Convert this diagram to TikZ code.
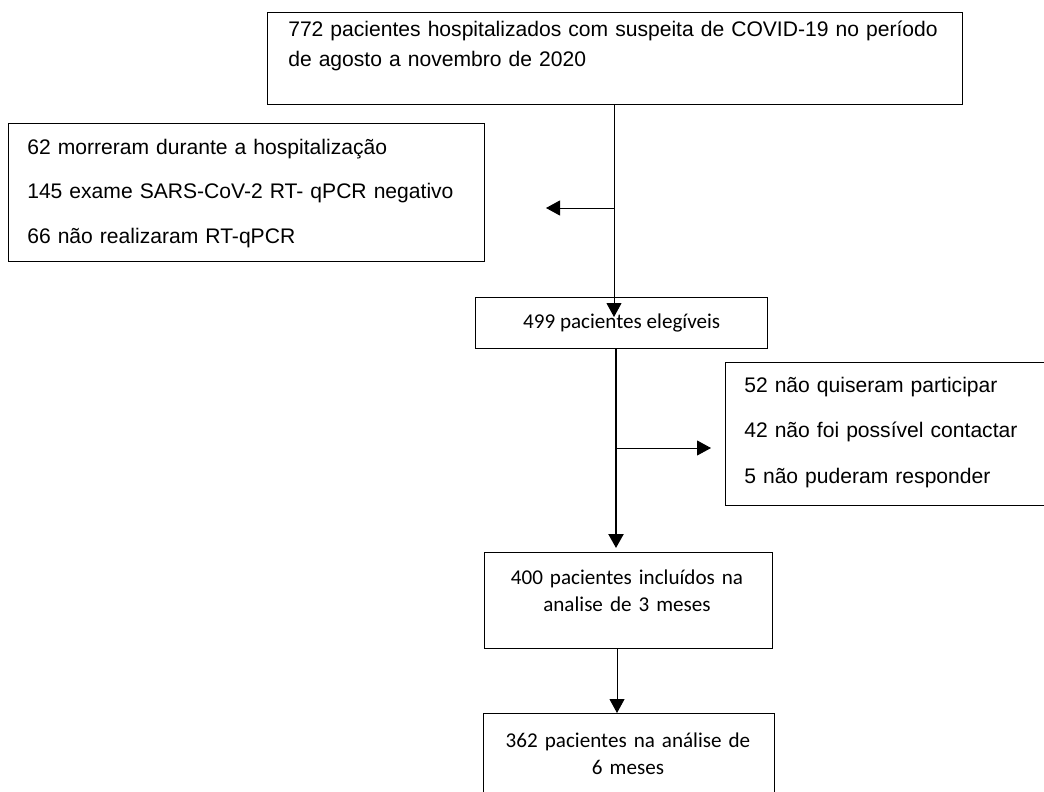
\documentclass[tikz,border=0pt]{standalone}
\usepackage{fontspec}
\setmainfont{Liberation Sans}
\newfontfamily\calibri{Carlito}
\usetikzlibrary{arrows.meta,positioning}

\begin{document}
\begin{tikzpicture}[x=1cm,y=1cm,font=\fontsize{15}{21.3}\selectfont,
    box/.style={rectangle,draw=black,line width=1pt,inner sep=0pt},
    txt/.style={inner sep=0pt,align=left,anchor=base west},
    ctxt/.style={inner sep=0pt,align=center,font=\calibri\fontsize{15}{19.9}\selectfont},
    flow/.style={line width=0.7pt,-{Triangle[length=0.35cm,width=0.375cm]}}]
      \useasboundingbox (0,0) rectangle (26.1,-19.775);

      % boxes
      \node[box,minimum width=17.375cm,minimum height=2.3cm,below right] (hosp) at (6.675,-0.3) {};
      \node[box,minimum width=11.9cm,minimum height=3.45cm,below right] (dead) at (0.2,-3.075) {};
      \node[box,ctxt,minimum width=7.3cm,minimum height=1.275cm,below right] (elig) at (11.875,-7.425) {499 pacientes elegíveis};
      \node[box,minimum width=8.025cm,minimum height=3.575cm,below right] (nopart) at (18.125,-9.05) {};
      \node[box,minimum width=7.2cm,minimum height=2.4cm,below right] (incl3) at (12.1,-13.8) {};
      \node[box,minimum width=7.275cm,minimum height=2.3cm,below right] (incl6) at (12.075,-17.825) {};

      % texts
      \node[txt,text width=16.5cm] (hosptxt) at (7.2,-0.925)
        {772 pacientes hospitalizados com suspeita de COVID-19 no período\\de agosto a novembro de 2020};
      \node[txt,text width=11cm,font=\fontsize{15}{32}\selectfont] (deadtxt) at (0.675,-3.85)
        {62 morreram durante a hospitalização\\145 exame SARS-CoV-2 RT- qPCR negativo\\66 não realizaram RT-qPCR};
      \node[txt,text width=7.3cm,font=\fontsize{15}{32.7}\selectfont] (noparttxt) at (18.6,-9.8)
        {52 não quiseram participar\\42 não foi possível contactar\\5 não puderam responder};
      \node[ctxt,anchor=base,text width=7cm] (incl3txt) at (15.675,-14.6) {400 pacientes incluídos na\\analise de 3 meses};
      \node[ctxt,anchor=base,text width=7cm] (incl6txt) at (15.7,-18.675) {362 pacientes na análise de\\6 meses};

      % exclusions
      \coordinate (split1) at (15.35,-5.2);
      \coordinate (deadtip) at (13.65,-5.2);
      \coordinate (eligtip) at (15.35,-7.925);
      \draw[flow] (hosp.south -| split1) -- (eligtip);
      \draw[flow] (split1) -- (deadtip);

      % eligible -> included
      \coordinate (split2) at (15.4,-11.2);
      \coordinate (noparttip) at (17.775,-11.2);
      \coordinate (incl3tip) at (15.4,-13.7);
      \draw[flow,line width=1.6pt] (elig.south -| split2) -- (incl3tip);
      \draw[flow] (split2) -- (noparttip);

      % 3 months -> 6 months
      \draw[flow] (incl3.south -| 15.425,0) -- (incl6.north -| 15.425,0);
\end{tikzpicture}
\end{document}
